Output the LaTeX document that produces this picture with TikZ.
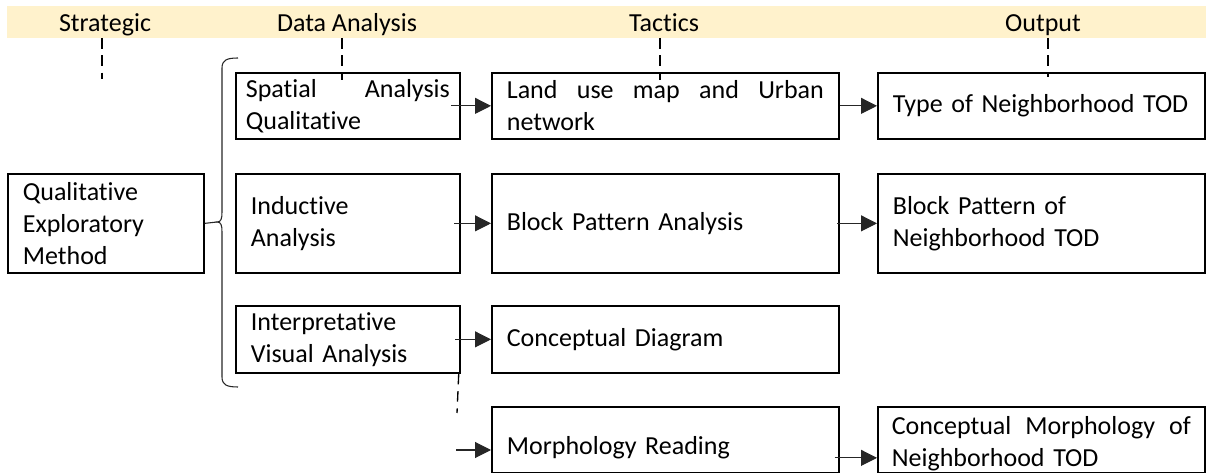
\documentclass[tikz,border=0pt]{standalone}
\usepackage{fontspec}
\setmainfont{Carlito}[Ligatures=NoCommon]
\usetikzlibrary{arrows.meta}
\definecolor{band}{HTML}{FFF2CC}
\definecolor{arrgray}{HTML}{262626}
\begin{document}
\begin{tikzpicture}[x=0.75pt,y=-0.75pt,
  every node/.style={font=\fontsize{19.5pt}{24pt}\selectfont},
  box/.style={draw=black, line width=1.3pt, anchor=north west, inner ysep=0pt, inner xsep=11.25pt, align=left},
  hdr/.style={inner sep=0pt, anchor=base},
  arr/.style={draw=arrgray, line width=0.8pt, -{Triangle[length=12pt,width=12pt]}},
  dsh/.style={line width=1pt, dash pattern=on 8pt off 5pt},
  brace/.style={draw=arrgray, line width=0.8pt}]
\useasboundingbox (0,0) rectangle (1206,473);
\fill[band] (7,6) rectangle (1206,38);
% headers
\node[hdr] (h1) at (105,31.5) {Strategic};
\node[hdr] (h2) at (347,31.5) {Data Analysis};
\node[hdr] (h3) at (664,31.5) {Tactics};
\node[hdr] (h4) at (1043,31.5) {Output};
% boxes
\node[box, minimum width=147pt, minimum height=74.25pt, text width=124.5pt] (qual) at (7,173) {Qualitative\\Exploratory\\Method};
\node[box, minimum width=168pt, minimum height=49.5pt, inner xsep=7.5pt, text width=153pt] (sp) at (235,72) {Spatial\hfill Analysis\\Qualitative};
\node[box, minimum width=168pt, minimum height=74.25pt, text width=145.5pt] (ind) at (235,173) {Inductive\\Analysis};
\node[box, minimum width=168pt, minimum height=50.25pt, text width=145.5pt] (interp) at (235,305) {Interpretative\\Visual Analysis};
\node[box, minimum width=260.25pt, minimum height=49.5pt, text width=237.75pt] (land) at (491,72) {Land\hfill use\hfill map\hfill and\hfill Urban\\network};
\node[box, minimum width=260.25pt, minimum height=74.25pt, text width=237.75pt] (block) at (491,173) {Block Pattern Analysis};
\node[box, minimum width=260.25pt, minimum height=50.25pt, text width=237.75pt] (concd) at (491,305) {Conceptual Diagram};
\node[box, minimum width=260.25pt, minimum height=49.5pt, text width=237.75pt] (morph) at (491,406) {\rule{0pt}{26pt}Morphology Reading};
\node[box, minimum width=245.25pt, minimum height=49.5pt, text width=222.75pt] (type) at (877,72) {Type of Neighborhood TOD};
\node[box, minimum width=245.25pt, minimum height=74.25pt, text width=222.75pt] (blockp) at (877,173) {Block Pattern of\\Neighborhood TOD};
\node[box, minimum width=245.25pt, minimum height=49.5pt, inner xsep=10.5pt, text width=224.25pt] (cmorph) at (877,406) {\rule{0pt}{20pt}Conceptual\hfill Morphology\hfill of\\Neighborhood TOD};
% brace
\coordinate (cusp) at (217,222);
\draw[brace] (238,58) .. controls (227,58) and (222,60) .. (222,68) -- (222,212) .. controls (222,219) and (221,222) .. (cusp) .. controls (221,222) and (222,225) .. (222,232) -- (222,377) .. controls (222,385) and (227,387) .. (238,387);
\draw[brace] (qual.east) -- (cusp);
% dashed guides
\coordinate (d1a) at (102,38); \coordinate (d1b) at (102,79);
\coordinate (d2a) at (342,38); \coordinate (d2b) at (342,80);
\coordinate (d3a) at (660,38); \coordinate (d3b) at (660,80);
\coordinate (d4a) at (1048,38); \coordinate (d4b) at (1048,77);
\coordinate (d5b) at (457,413);
\draw[dsh] (d1a) -- (d1b);
\draw[dsh] (d2a) -- (d2b);
\draw[dsh] (d3a) -- (d3b);
\draw[dsh] (d4a) -- (d4b);
\draw[dsh] ([xshift=-1.5pt]interp.south east) -- (d5b);
% arrows
\draw[arr] ([xshift=-7pt]sp.east) -- (land.west);
\draw[arr] (land.east) -- (type.west);
\draw[arr] ([xshift=-5pt]ind.east) -- (block.west);
\draw[arr] ([xshift=-2pt]block.east) -- (blockp.west);
\draw[arr] ([xshift=-4pt]interp.east) -- (concd.west);
\coordinate (m0) at (456,450);
\draw[arr] (m0) -- (m0 -| morph.west);
\path ([xshift=-3.75pt,yshift=-13.5pt]morph.east) coordinate (m1);
\draw[arr] (m1) -- (m1 -| cmorph.west);
\end{tikzpicture}
\end{document}
